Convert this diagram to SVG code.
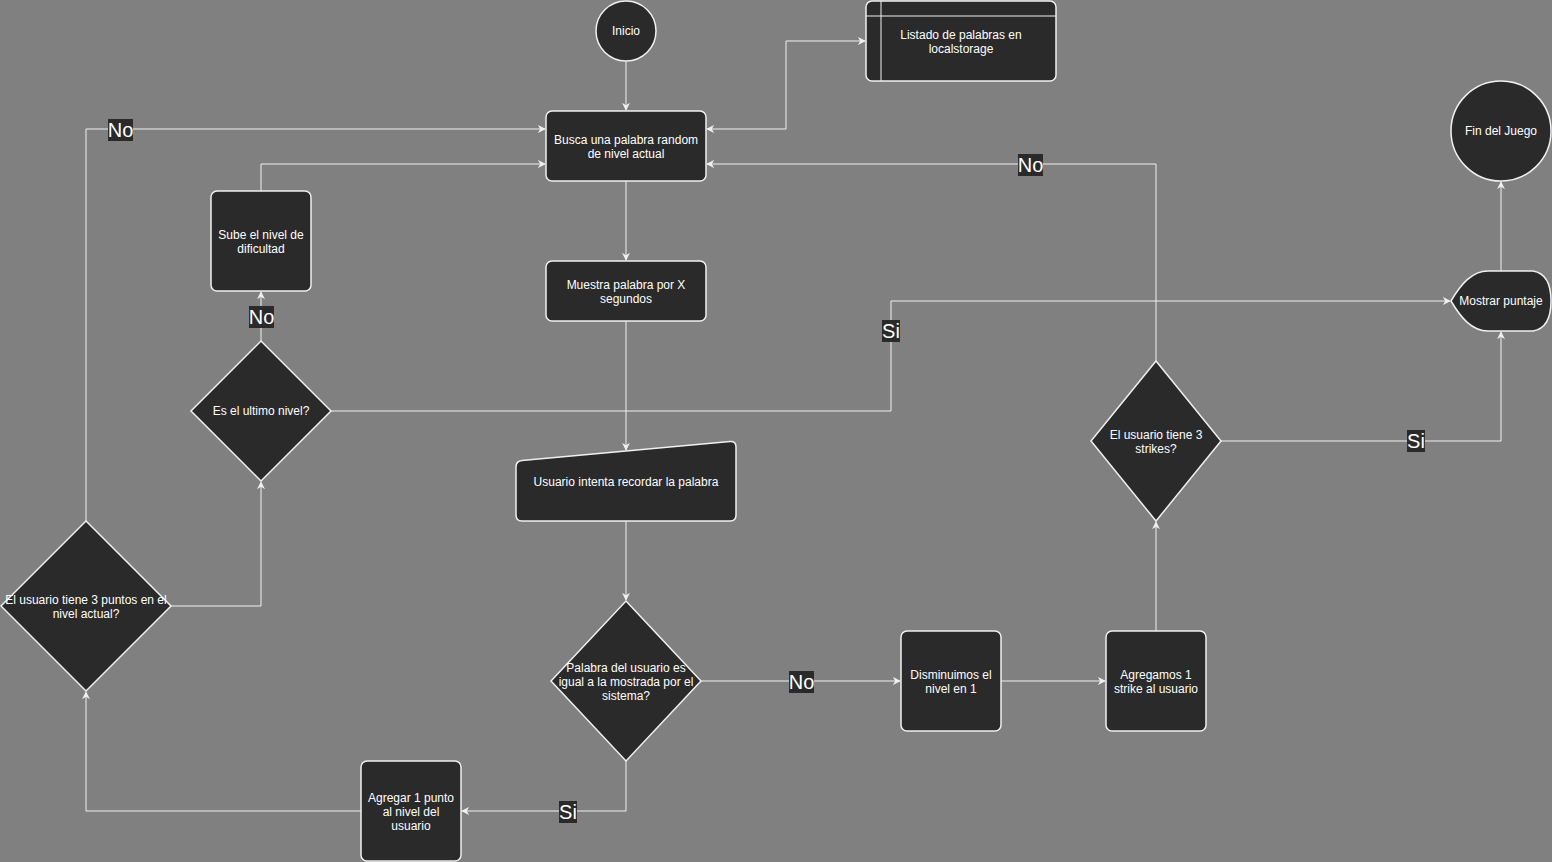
<svg xmlns="http://www.w3.org/2000/svg" width="1552" height="862" viewBox="0 0 1552 862">
<defs>
<style>
.n{fill:#2a2a2a;stroke:#f0f0f0;stroke-width:1.5}
.t{fill:#ffffff;font-family:"Liberation Sans",Arial,sans-serif;font-size:12px;text-anchor:middle;dominant-baseline:central}
.e{fill:none;stroke:#f0f0f0;stroke-width:1}
.lb{fill:#2a2a2a}
.lt{fill:#ffffff;font-family:"Liberation Sans",Arial,sans-serif;font-size:20px;text-anchor:middle;dominant-baseline:central}
</style>
<marker id="a" viewBox="0 0 10 10" refX="9" refY="5" markerWidth="8" markerHeight="8" markerUnits="userSpaceOnUse" orient="auto-start-reverse">
<path d="M0,0 L10,5 L0,10 L3,5 Z" fill="#f0f0f0"/>
</marker>
</defs>
<rect width="1552" height="862" fill="#808080"/>
<g id="connectors">
<path class="e" d="M626,61 L626,110" marker-end="url(#a)"/>
<path class="e" d="M707,129 L786,129 L786,41 L865,41" marker-start="url(#a)" marker-end="url(#a)"/>
<path class="e" d="M626,181 L626,260" marker-end="url(#a)"/>
<path class="e" d="M626,321 L626,450" marker-end="url(#a)"/>
<path class="e" d="M626,521 L626,600" marker-end="url(#a)"/>
<path class="e" d="M701,681 L900,681" marker-end="url(#a)"/>
<path class="e" d="M626,761 L626,811 L462,811" marker-end="url(#a)"/>
<path class="e" d="M1001,681 L1105,681" marker-end="url(#a)"/>
<path class="e" d="M1156,631 L1156,522" marker-end="url(#a)"/>
<path class="e" d="M1156,361 L1156,164 L707,164" marker-end="url(#a)"/>
<path class="e" d="M1221,441 L1501,441 L1501,332" marker-end="url(#a)"/>
<path class="e" d="M1501,271 L1501,182" marker-end="url(#a)"/>
<path class="e" d="M361,811 L86,811 L86,692" marker-end="url(#a)"/>
<path class="e" d="M86,521 L86,129 L545,129" marker-end="url(#a)"/>
<path class="e" d="M171,606 L261,606 L261,482" marker-end="url(#a)"/>
<path class="e" d="M261,341 L261,292" marker-end="url(#a)"/>
<path class="e" d="M261,191 L261,164 L545,164" marker-end="url(#a)"/>
<path class="e" d="M331,411 L891,411 L891,301 L1450,301" marker-end="url(#a)"/>
<rect class="lb" x="108" y="119" width="25" height="22"/><text class="lt" x="120.5" y="130">No</text>
<rect class="lb" x="1018" y="154" width="25" height="22"/><text class="lt" x="1030.5" y="165">No</text>
<rect class="lb" x="249" y="306" width="25" height="22"/><text class="lt" x="261.5" y="317">No</text>
<rect class="lb" x="882" y="320" width="18" height="22"/><text class="lt" x="891" y="331">Si</text>
<rect class="lb" x="1407" y="430" width="18" height="22"/><text class="lt" x="1416" y="441">Si</text>
<rect class="lb" x="789" y="671" width="25" height="22"/><text class="lt" x="801.5" y="682">No</text>
<rect class="lb" x="559" y="801" width="18" height="22"/><text class="lt" x="568" y="812">Si</text>
</g>
<g id="inicio"><circle class="n" cx="626" cy="31" r="30"/><text class="t" x="626" y="31">Inicio</text></g>
<g id="listado"><rect class="n" x="866" y="1" width="190" height="80" rx="6"/><path class="e" d="M881,1 L881,81 M866,16 L1056,16" stroke-width="1.5"/><text class="t" x="961" y="35">Listado de palabras en</text><text class="t" x="961" y="49">localstorage</text></g>
<g id="busca"><rect class="n" x="546" y="111" width="160" height="70" rx="6"/><text class="t" x="626" y="140">Busca una palabra random</text><text class="t" x="626" y="154">de nivel actual</text></g>
<g id="fin"><circle class="n" cx="1501" cy="131" r="50"/><text class="t" x="1501" y="131">Fin del Juego</text></g>
<g id="sube"><rect class="n" x="211" y="191" width="100" height="100" rx="6"/><text class="t" x="261" y="235">Sube el nivel de</text><text class="t" x="261" y="249">dificultad</text></g>
<g id="muestra"><rect class="n" x="546" y="261" width="160" height="60" rx="6"/><text class="t" x="626" y="285">Muestra palabra por X</text><text class="t" x="626" y="299">segundos</text></g>
<g id="mostrar"><path class="n" d="M1451,301 C1461,284 1472,271 1488,271 L1533,271 Q1551,274 1551,301 Q1551,328 1533,331 L1488,331 C1472,331 1461,318 1451,301 Z"/><text class="t" x="1501" y="301">Mostrar puntaje</text></g>
<g id="ultimo"><path class="n" d="M261,341 L331,411 L261,481 L191,411 Z"/><text class="t" x="261" y="411">Es el ultimo nivel?</text></g>
<g id="usuario-intenta"><path class="n" d="M516,467 Q516,461 522,460.5 L730,441.5 Q736,441 736,447 L736,515 Q736,521 730,521 L522,521 Q516,521 516,515 Z"/><text class="t" x="626" y="482">Usuario intenta recordar la palabra</text></g>
<g id="strikes"><path class="n" d="M1156,361 L1221,441 L1156,521 L1091,441 Z"/><text class="t" x="1156" y="435">El usuario tiene 3</text><text class="t" x="1156" y="449">strikes?</text></g>
<g id="puntos"><path class="n" d="M86,521 L171,606 L86,691 L1,606 Z"/><text class="t" x="86" y="600">El usuario tiene 3 puntos en el</text><text class="t" x="86" y="614">nivel actual?</text></g>
<g id="palabra"><path class="n" d="M626,601 L701,681 L626,761 L551,681 Z"/><text class="t" x="626" y="668">Palabra del usuario es</text><text class="t" x="626" y="682">igual a la mostrada por el</text><text class="t" x="626" y="696">sistema?</text></g>
<g id="disminuimos"><rect class="n" x="901" y="631" width="100" height="100" rx="6"/><text class="t" x="951" y="675">Disminuimos el</text><text class="t" x="951" y="689">nivel en 1</text></g>
<g id="agregamos"><rect class="n" x="1106" y="631" width="100" height="100" rx="6"/><text class="t" x="1156" y="675">Agregamos 1</text><text class="t" x="1156" y="689">strike al usuario</text></g>
<g id="agregar"><rect class="n" x="361" y="761" width="100" height="100" rx="6"/><text class="t" x="411" y="798">Agregar 1 punto</text><text class="t" x="411" y="812">al nivel del</text><text class="t" x="411" y="826">usuario</text></g>
</svg>
